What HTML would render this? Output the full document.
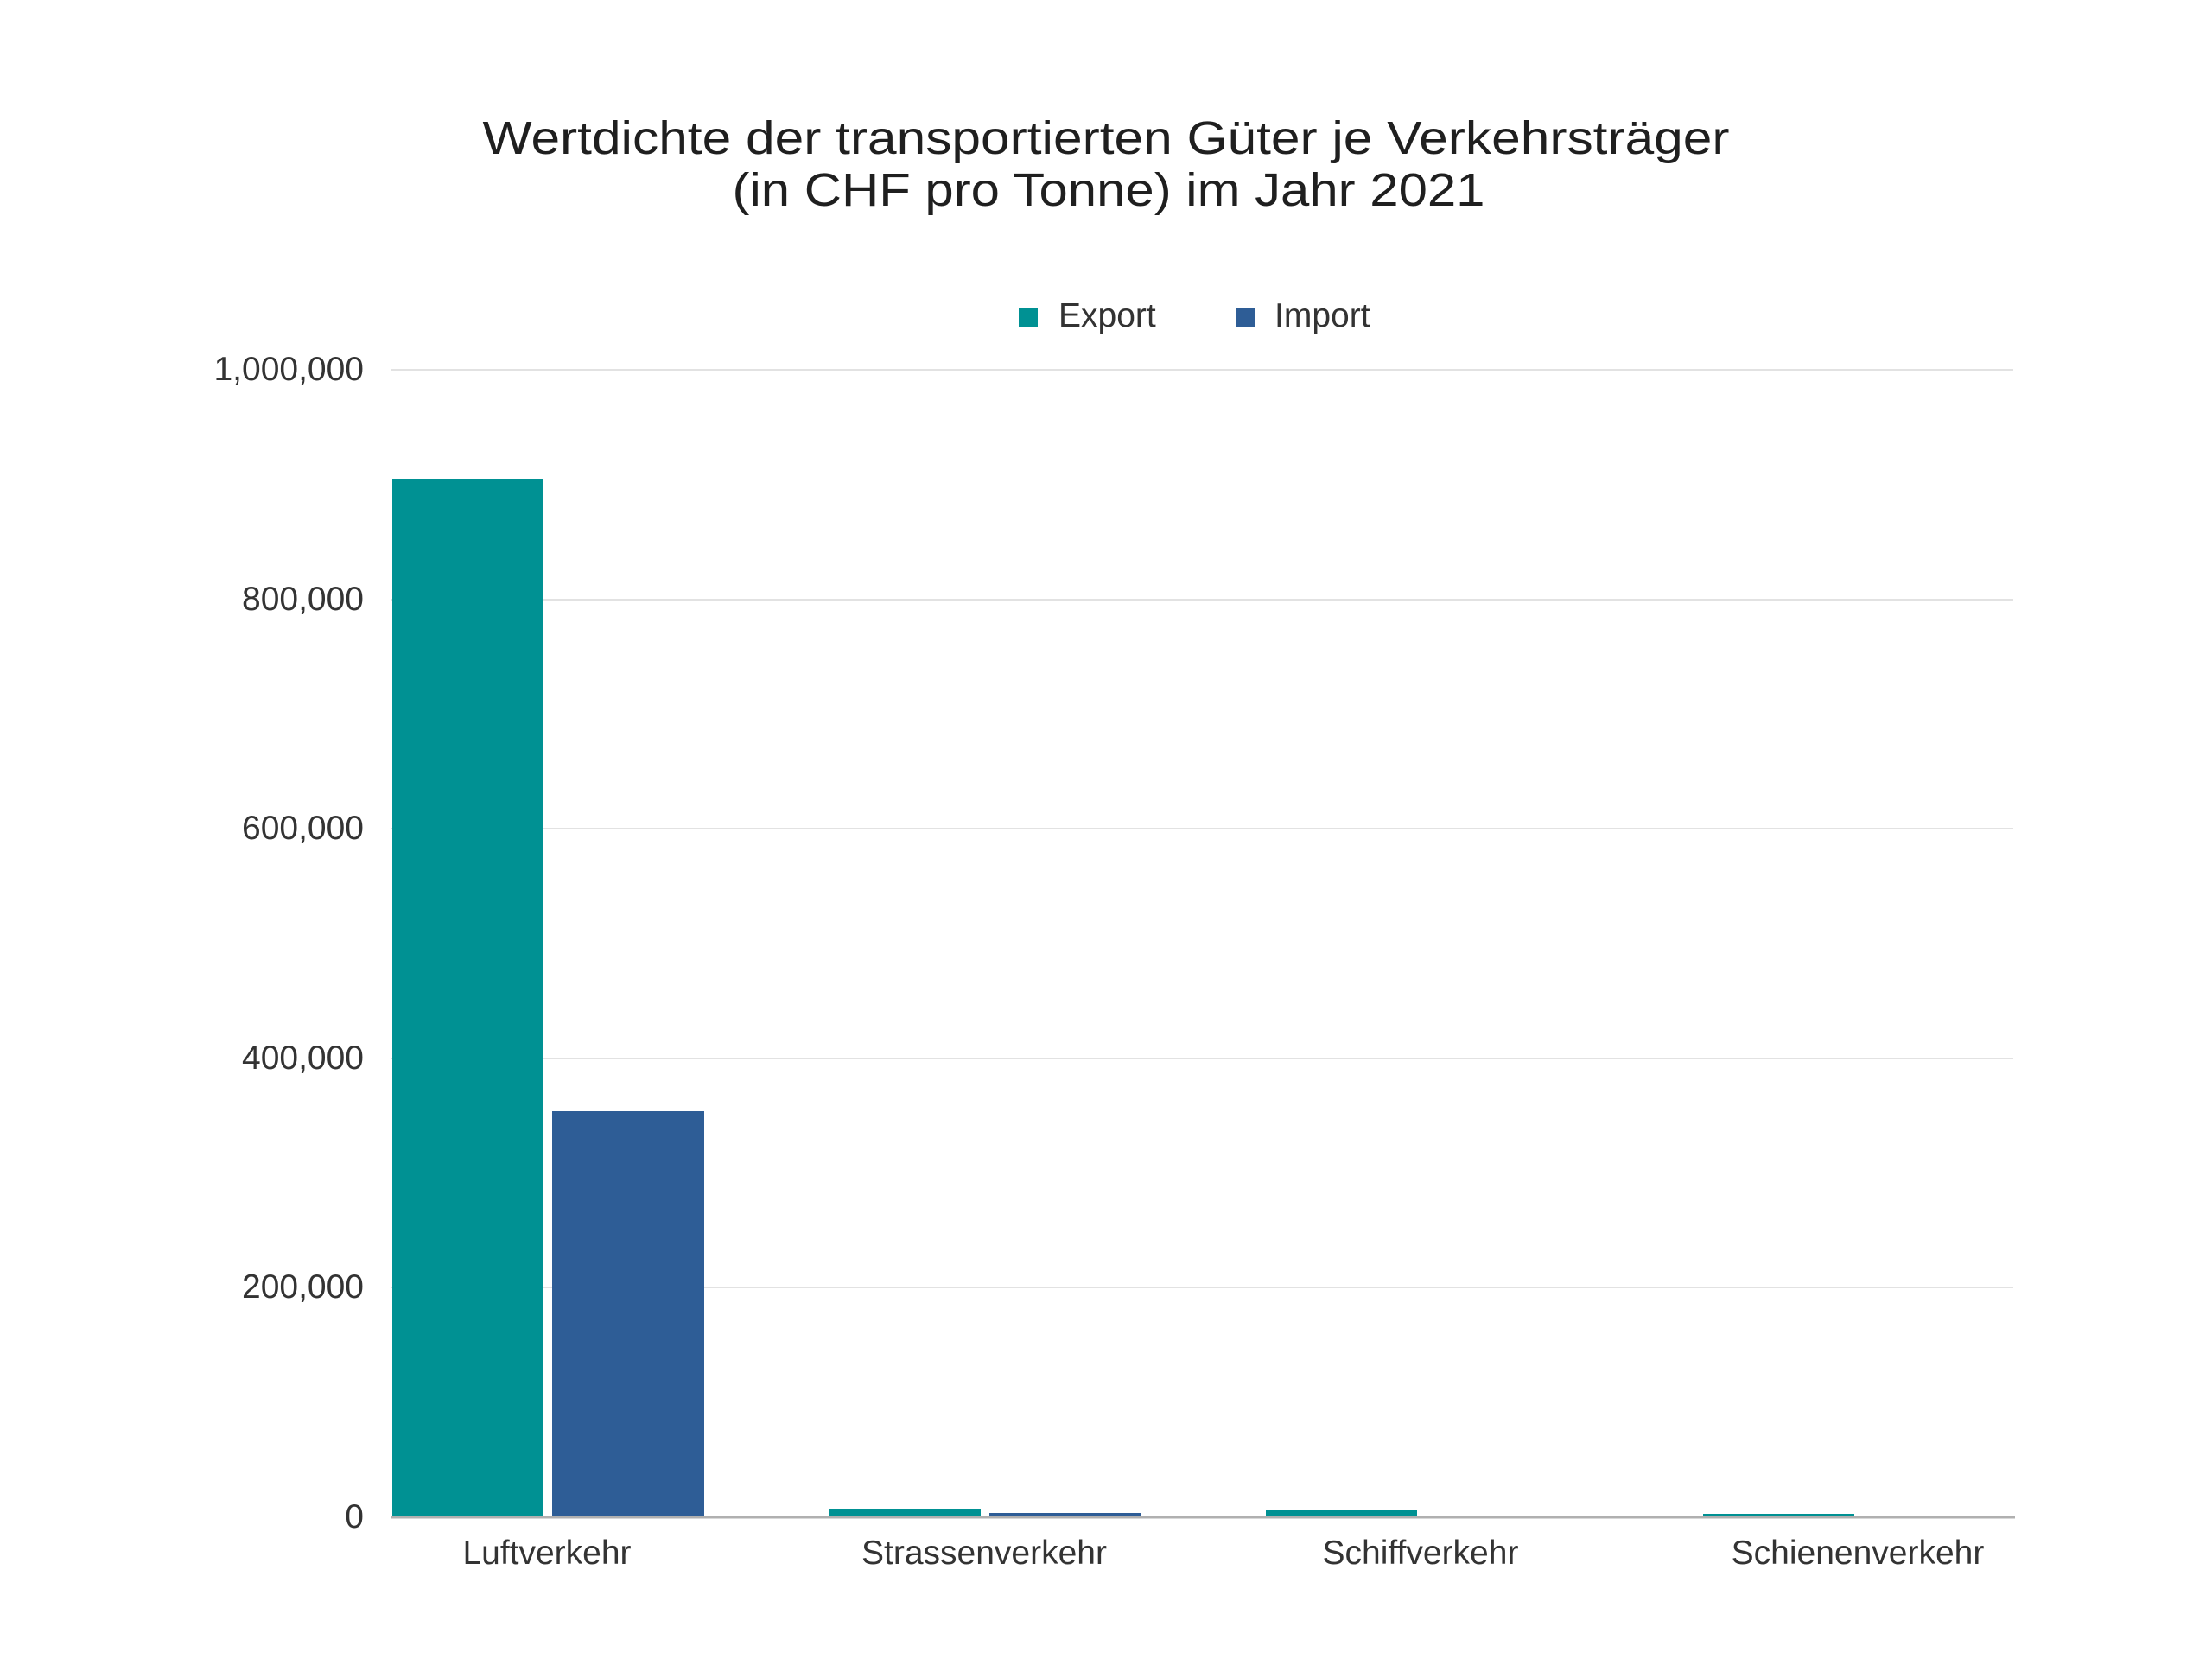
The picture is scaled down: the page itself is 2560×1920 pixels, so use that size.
<!DOCTYPE html>
<html><head><meta charset="utf-8"><style>html,body{margin:0;padding:0;background:#fff}svg{display:block}</style></head>
<body>
<svg width="2560" height="1920" viewBox="0 0 2560 1920" xmlns="http://www.w3.org/2000/svg" font-family="Liberation Sans, sans-serif">
<rect width="2560" height="1920" fill="#fff"/>
<g fill="#1f1f1f" font-size="54" text-anchor="middle">
<text x="1280" y="178" textLength="1443" lengthAdjust="spacingAndGlyphs">Wertdichte der transportierten Güter je Verkehrsträger</text>
<text x="1283" y="238" textLength="871" lengthAdjust="spacingAndGlyphs">(in CHF pro Tonne) im Jahr 2021</text>
</g>
<rect x="1179" y="356" width="22" height="22" fill="#009193"/>
<text x="1225" y="378" font-size="39" fill="#333">Export</text>
<rect x="1431" y="356" width="22" height="22" fill="#2e5d96"/>
<text x="1475" y="378" font-size="39" fill="#333">Import</text>
<g stroke="#e2e2e2" stroke-width="2">
<line x1="452" y1="428" x2="2330" y2="428"/>
<line x1="452" y1="694" x2="2330" y2="694"/>
<line x1="452" y1="959" x2="2330" y2="959"/>
<line x1="452" y1="1225" x2="2330" y2="1225"/>
<line x1="452" y1="1490" x2="2330" y2="1490"/>
</g>
<g font-size="39" fill="#333" text-anchor="end">
<text x="421" y="440">1,000,000</text>
<text x="421" y="706">800,000</text>
<text x="421" y="971">600,000</text>
<text x="421" y="1237">400,000</text>
<text x="421" y="1502">200,000</text>
<text x="421" y="1768">0</text>
</g>
<g fill="#009193">
<rect x="454" y="554" width="175" height="1202"/>
<rect x="960" y="1746" width="175" height="10"/>
<rect x="1465" y="1748" width="175" height="8"/>
<rect x="1971" y="1752" width="175" height="4"/>
</g>
<g fill="#2e5d96">
<rect x="639" y="1286" width="176" height="470"/>
<rect x="1145" y="1751" width="176" height="5"/>
<rect x="1650" y="1754" width="176" height="2"/>
<rect x="2156" y="1754" width="176" height="2"/>
</g>
<line x1="452" y1="1756" x2="2332" y2="1756" stroke="#b0b0b0" stroke-width="3"/>
<g font-size="39" fill="#333" text-anchor="middle">
<text x="633" y="1810">Luftverkehr</text>
<text x="1139" y="1810">Strassenverkehr</text>
<text x="1644" y="1810">Schiffverkehr</text>
<text x="2150" y="1810">Schienenverkehr</text>
</g>
</svg>
</body></html>
